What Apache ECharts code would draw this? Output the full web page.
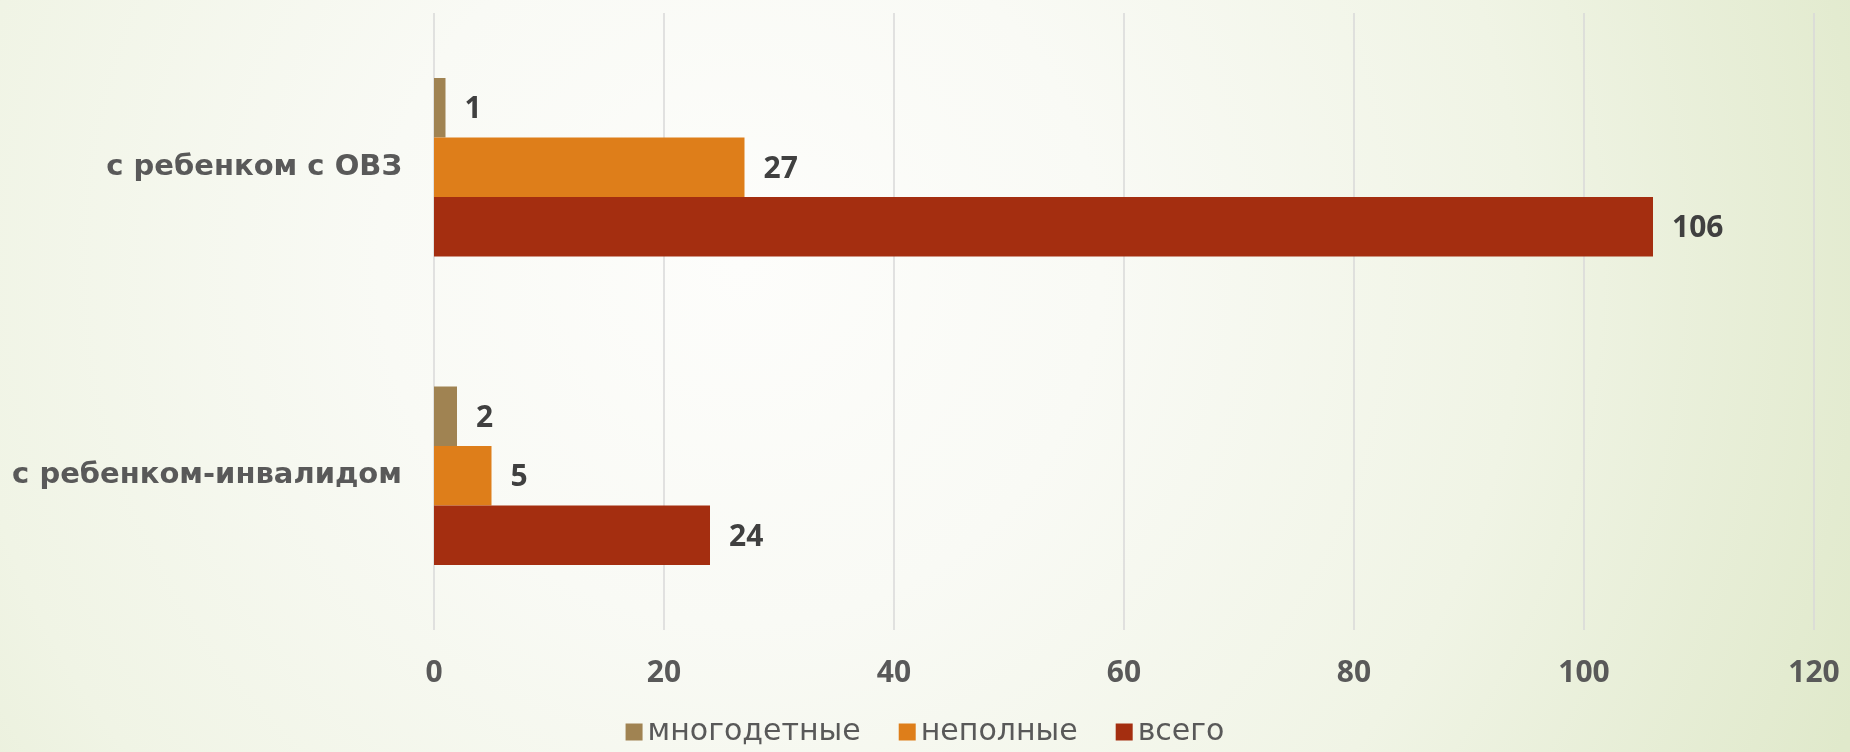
<!DOCTYPE html>
<html lang="ru">
<head>
    <meta charset="UTF-8">
    <title>Семьи</title>
    <script src="https://cdn.jsdelivr.net/npm/echarts@6/dist/echarts.min.js"></script>
</head>
<style>
    *{
        margin: 0;
        padding: 0;
    }
    html,body{
        width: 100%;
        height: 100%;
        overflow: hidden;
    }
    .container{
        width: 1850px;
        height: 752px;
    }
</style>
<body>
<div class="container"></div>
<script>
    // bottom to top, as the category axis draws them
    let categories = ['с ребенком-инвалидом', 'с ребенком с ОВЗ'];
    let mnogodetnye = [2, 1];
    let nepolnye = [5, 27];
    let vsego = [24, 106];
    let xTicks = [0, 20, 40, 60, 80, 100, 120];

    let container = document.querySelector('.container');
    let mycharts = echarts.init(container);

    let fontFamily = '"Noto Sans", "DejaVu Sans", sans-serif';
    let wideFont = '"DejaVu Sans", sans-serif';

    function makeSeries(name, data, color) {
        return {
            name: name,
            type: 'bar',
            data: data,
            barWidth: 59.5,
            barGap: '0%',
            itemStyle: {color: color},
            label: {
                show: true,
                position: 'right',
                distance: 19,
                color: '#404040',
                fontFamily: fontFamily,
                fontWeight: 'bold',
                fontSize: 30,
                offset: [0, 2]
            }
        };
    }

    // r is measured against the shorter side, so 1.6 reaches the far corners
    let option = {
        backgroundColor: new echarts.graphic.RadialGradient(0.4, 0.35, 1.6, [{
            offset: 0,
            color: '#fdfdfb'
        }, {
            offset: 0.3,
            color: '#f9faf5'
        }, {
            offset: 0.65,
            color: '#f0f4e5'
        }, {
            offset: 1,
            color: '#e0e9cb'
        }]),
        textStyle: {fontFamily: fontFamily},
        grid: {
            left: 434,
            right: 36,
            top: 13,
            bottom: 122
        },
        legend: {
            data: ['многодетные', 'неполные', 'всего'],
            bottom: 0,
            left: 'center',
            itemWidth: 17,
            itemHeight: 17,
            itemGap: 38,
            icon: 'rect',
            textStyle: {
                color: '#595959',
                fontSize: 30,
                fontFamily: wideFont
            }
        },
        xAxis: {
            type: 'value',
            min: xTicks[0],
            max: xTicks[xTicks.length - 1],
            interval: 20,
            axisLine: {show: false},
            axisTick: {show: false},
            axisLabel: {
                color: '#595959',
                fontWeight: 'bold',
                fontSize: 30,
                margin: 28
            },
            splitLine: {
                lineStyle: {color: '#d9d9d9', width: 1.5}
            }
        },
        yAxis: {
            type: 'category',
            data: categories,
            axisLine: {show: false},
            axisTick: {show: false},
            axisLabel: {
                color: '#595959',
                fontWeight: 'bold',
                fontFamily: wideFont,
                fontSize: 29,
                margin: 32
            }
        },
        series: [
            makeSeries('многодетные', mnogodetnye, '#a08352'),
            makeSeries('неполные', nepolnye, '#de7e1a'),
            makeSeries('всего', vsego, '#a42e10')
        ]
    };

    mycharts.setOption(option);
</script>
</body>
</html>
